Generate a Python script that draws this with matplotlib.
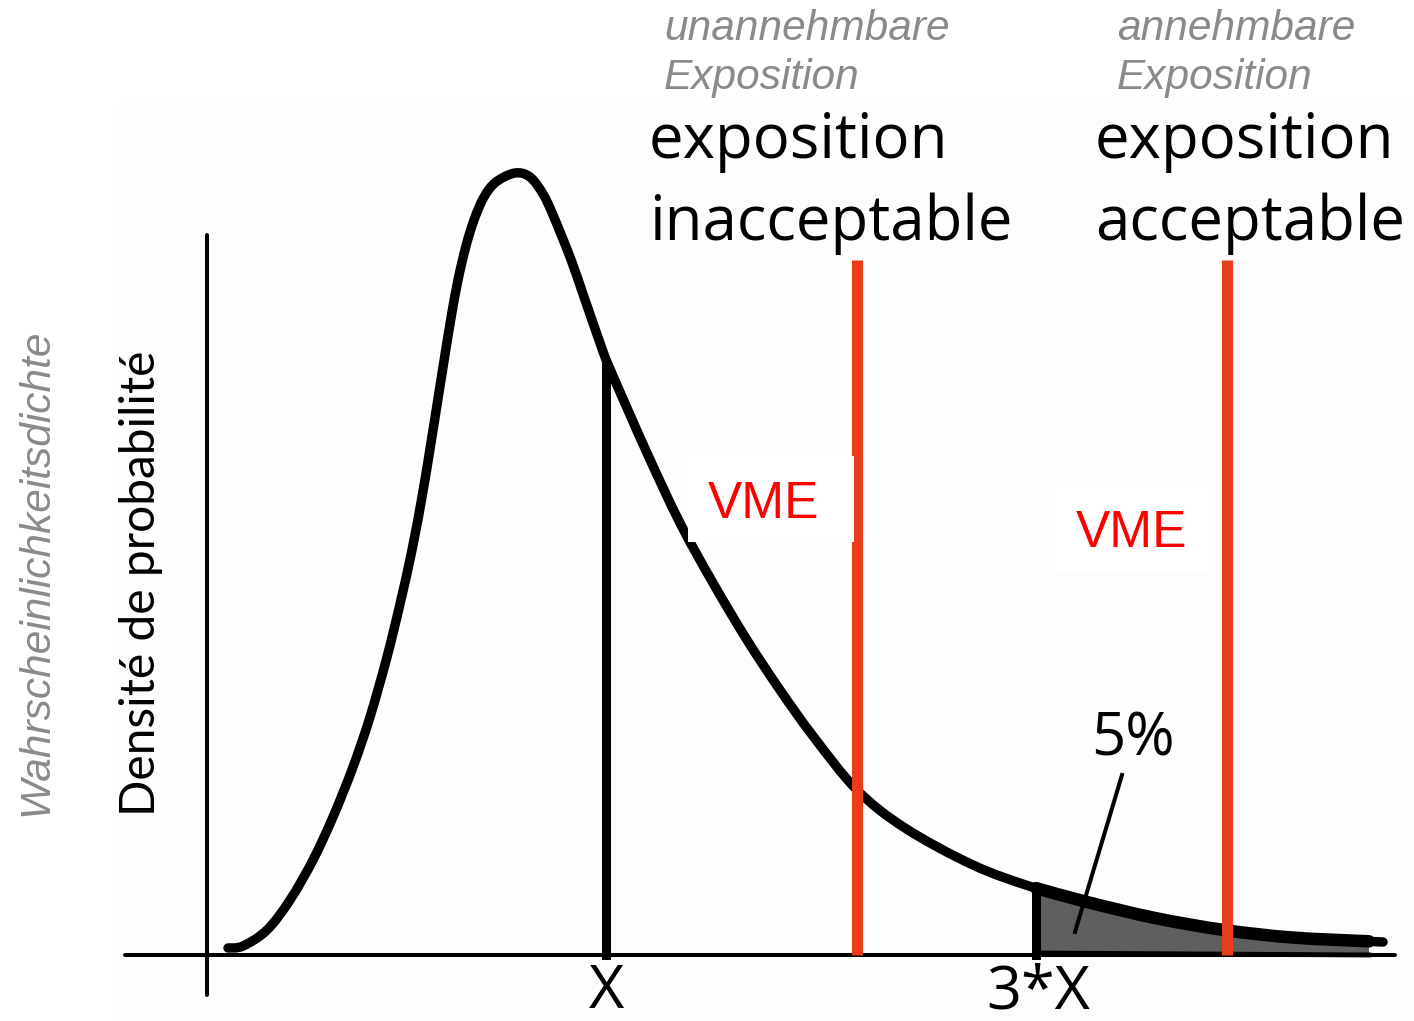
import numpy as np
import matplotlib
matplotlib.use("Agg")
import matplotlib.pyplot as plt
from matplotlib.patches import Rectangle, PathPatch
from matplotlib.path import Path

# ---- data (exposure units, density units) ----
curve_x = [0.21, 0.36, 0.60, 0.83, 1.06, 1.26, 1.46, 1.63, 1.80, 1.93, 2.05, 2.15,
           2.23, 2.30, 2.37, 2.44, 2.51, 2.59, 2.67, 2.77, 2.89, 3.08,
           3.23, 3.36, 3.46, 3.63, 3.76, 3.93, 4.03, 4.40, 4.73, 5.06, 5.40, 5.73,
           6.06, 6.50, 6.98, 7.66, 8.25, 8.80, 9.48, 10.17, 10.85, 11.76]
curve_y = [0.07, 0.09, 0.25, 0.55, 0.95, 1.38, 1.88, 2.38, 2.98, 3.51, 4.05, 4.58,
           5.06, 5.50, 5.94, 6.37, 6.75, 7.09, 7.35, 7.58, 7.73, 7.82,
           7.78, 7.61, 7.40, 6.98, 6.61, 6.12, 5.86, 5.02, 4.32, 3.72, 3.15, 2.65,
           2.19, 1.65, 1.27, 0.90, 0.68, 0.53, 0.37, 0.25, 0.175, 0.13]
x_mark = 3.99          # "X"
x3_mark = 8.29         # "3*X"
vme_lines = [6.50, 10.20]
vme_top = 6.95
tail_end = 11.62
tick_labels = ["X", "3*X"]
pct_label = "5%"

fig = plt.figure(figsize=(14.14, 10.21), dpi=100)
ax = fig.add_axes([0, 0, 1, 1])
ax.set_xlim(-2.07, 12.07)
ax.set_ylim(-0.66, 9.55)
ax.axis("off")

cx = np.array(curve_x)
cy = np.array(curve_y)


def smooth_verts(xs, ys):
    """Cubic Bezier vertices/codes passing through the given points."""
    p = np.column_stack([xs, ys])
    n = len(p)
    verts = [p[0]]
    codes = [Path.MOVETO]
    for i in range(n - 1):
        p0 = p[i - 1] if i > 0 else p[i]
        p1 = p[i]
        p2 = p[i + 1]
        p3 = p[i + 2] if i + 2 < n else p[i + 1]
        c1 = p1 + (p2 - p0) / 6.0
        c2 = p2 - (p3 - p1) / 6.0
        verts += [c1, c2, p2]
        codes += [Path.CURVE4] * 3
    return verts, codes


# faint background panel
ax.add_patch(Rectangle((-0.89, -0.66), 13.0, 9.2, facecolor="#fdfdfd",
                       edgecolor="none", zorder=0))

# axes
ax.plot([0, 0], [-0.40, 7.20], color="black", lw=2.9, solid_capstyle="round", zorder=3)
ax.plot([-0.82, 11.88], [0, 0], color="black", lw=2.9, solid_capstyle="round", zorder=3)

# shaded 5% tail
sel = (cx > x3_mark) & (cx < tail_end)
tx = np.concatenate([[x3_mark], cx[sel], [tail_end]])
ty = np.interp(tx, cx, cy)
tv, tc = smooth_verts(tx, ty)
fv = tv + [(tail_end, 0.0), (x3_mark, 0.02), (x3_mark, ty[0])]
fc = tc + [Path.LINETO, Path.LINETO, Path.LINETO]
ax.add_patch(PathPatch(Path(fv, fc), facecolor="#5f5f5f", edgecolor="none", zorder=2))
ax.plot([x3_mark, x3_mark], [0, ty[0]], color="black", lw=6.5, zorder=4)
ax.add_patch(PathPatch(Path(tv, tc), facecolor="none", edgecolor="black", lw=9,
                       capstyle="round", zorder=4))
ax.plot([x3_mark, tail_end], [0.02, 0.0], color="black", lw=3.5, zorder=4)

# density curve
cv, cc = smooth_verts(cx, cy)
ax.add_patch(PathPatch(Path(cv, cc), facecolor="none", edgecolor="black", lw=6.8,
                       capstyle="round", joinstyle="round", zorder=5))

# X line
ax.plot([x_mark, x_mark], [0, np.interp(x_mark, cx, cy) - 0.05], color="black",
        lw=6.5, zorder=4)

# red VME lines
for xv in vme_lines:
    ax.plot([xv, xv], [0, vme_top], color="#e83c1a", lw=8, solid_capstyle="butt",
            zorder=6)

# VME labels with white boxes
ax.add_patch(Rectangle((4.81, 4.13), 1.66, 0.86, facecolor="white",
                       edgecolor="none", zorder=7))
ax.text(5.01, 4.37, "VME", color="#ff0000", fontsize=37, family="Liberation Sans",
        ha="left", va="baseline", zorder=8)
ax.add_patch(Rectangle((8.48, 3.83), 1.60, 0.85, facecolor="white",
                       edgecolor="none", zorder=7))
ax.text(8.69, 4.08, "VME", color="#ff0000", fontsize=37, family="Liberation Sans",
        ha="left", va="baseline", zorder=8)

# 5% pointer
ax.plot([9.15, 8.68], [1.80, 0.23], color="black", lw=2.9, zorder=9)
ax.text(8.84, 2.00, pct_label, fontsize=43, family="Open Sans", ha="left",
        va="baseline", zorder=9)

# x labels
ax.text(x_mark, -0.53, tick_labels[0], fontsize=44, family="Open Sans",
        ha="center", va="baseline")
ax.text(x3_mark + 0.02, -0.53, tick_labels[1], fontsize=44, family="Open Sans",
        ha="center", va="baseline")

# French headings
big = dict(fontsize=44.5, family="Open Sans", color="black", ha="left", va="baseline")
ax.text(4.42, 7.97, "exposition", **big)
ax.text(4.42, 7.15, "inacceptable", **big)
ax.text(8.88, 7.97, "exposition", **big)
ax.text(8.88, 7.15, "acceptable", **big)

# German headings (gray italic)
gray = dict(fontsize=30.5, family="Liberation Sans", style="italic", color="#8a8a8a",
            ha="left", va="baseline")
ax.text(4.57, 9.15, "unannehmbare", **gray)
ax.text(4.57, 8.66, "Exposition", **gray)
ax.text(9.10, 9.15, "annehmbare", **gray)
ax.text(9.10, 8.66, "Exposition", **gray)

# y labels
ax.text(-1.60, 3.83, "Wahrscheinlichkeitsdichte", rotation=90, rotation_mode="anchor",
        fontsize=30.5, family="Liberation Sans", style="italic", color="#8a8a8a",
        ha="center", va="baseline")
ax.text(-0.52, 3.72, "Densité de probabilité", rotation=90, rotation_mode="anchor",
        fontsize=34.5, family="Lato", color="black", ha="center", va="baseline")

fig.savefig("out.png", dpi=100)
